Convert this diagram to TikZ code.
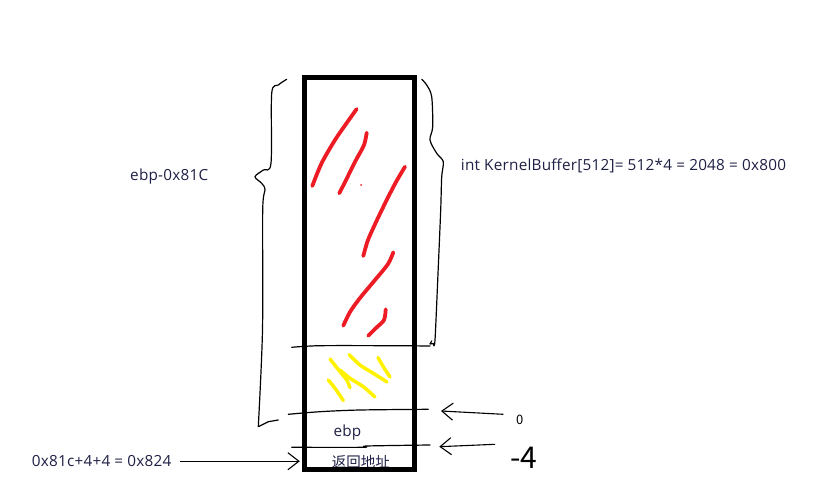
\documentclass[tikz,border=0pt]{standalone}
\usepackage{fontspec}
\newfontfamily\yahei{Noto Sans CJK SC}
\newfontfamily\segoe[LetterSpace=1.5]{Open Sans}
\usepackage{tikz}
\usetikzlibrary{arrows.meta,positioning,calc}
\definecolor{inkred}{HTML}{ED1C24}
\definecolor{inkyellow}{HTML}{FFF200}
\definecolor{textnavy}{HTML}{1F2045}

\begin{document}
\begin{tikzpicture}[
    x=1pt, y=-1pt,
    pen/.style={line width=1.2pt, line join=round, line cap=round},
    redink/.style={draw=inkred, line width=3.8pt, line cap=round, line join=round},
    yellowink/.style={draw=inkyellow, line width=3.5pt, line cap=round, line join=round},
    label/.style={font=\segoe\fontsize{15.3}{17}\selectfont, text=textnavy, inner sep=0pt},
    cjklabel/.style={font=\yahei\fontsize{14.5}{16}\selectfont, text=textnavy, inner sep=0pt},
    hand/.style={font=\yahei\fontsize{#1}{#1}\selectfont, inner sep=0pt},
    handarrow/.style={-{Straight Barb[length=11pt, width=17pt]}, line width=1.1pt},
]
    \useasboundingbox (0,0) rectangle (815,495);

    % Slot contents
    \node[label, anchor=base west] (ebp) at (333.3,436) {ebp};
    \node[cjklabel, anchor=base west] (ret) at (331.7,467.8) {返回地址};

    % Stack frame
    \node[draw, line width=5pt, minimum width=110pt, minimum height=391.5pt, inner sep=0pt] (stack) at (359.3,273.25) {};

    % Buffer scribbles
    \draw[redink] plot[smooth] coordinates {(356.7,109) (346.7,123) (335,140) (321.7,163) (312.3,186)};
    \draw[redink] plot[smooth] coordinates {(366.7,132.7) (364,145) (356,160) (348,176) (343,186) (339.3,193.3)};
    \fill[inkred] (361,185) circle (1pt);
    \draw[redink] plot[smooth] coordinates {(405,166.7) (396,182) (386.7,200) (377,220) (368,240) (363.3,256)};
    \draw[redink] plot[smooth] coordinates {(393.3,252.3) (388,264) (375,280) (360,298) (350,312) (343.3,325.7)};
    \draw[redink] plot[smooth] coordinates {(385.7,309.3) (384,320) (376,328) (368.3,335.7)};

    \draw[yellowink] plot[smooth] coordinates {(330,359) (340,371.7) (346.7,380) (350,387.7)};
    \draw[yellowink] plot[smooth] coordinates {(328.3,380) (335,388.3) (343.3,400.5)};
    \draw[yellowink] plot[smooth] coordinates {(349,354.5) (360,365) (373.3,373.3) (387,382)};
    \draw[yellowink] plot[smooth] coordinates {(340,370) (350,378.3) (363.3,386.7) (375,397)};
    \draw[yellowink] plot[smooth] coordinates {(378,357.5) (383.3,366.7) (390,377)};

    % Slot borders
    \draw[pen] plot[smooth] coordinates {(291.7,347.3) (320,345.7) (390,345.7) (430,346)};
    \draw[pen] plot[smooth] coordinates {(288.3,414.3) (320,411.7) (360,410) (428.3,409.3)};
    \draw[pen] plot[smooth] coordinates {(291.7,447.3) (363,447.3) (366.7,446) (430,445)};

    % Braces
    \draw[pen] plot[smooth] coordinates {(286.7,79.3) (278.3,85) (271.7,93.3) (271,163.3) (263.3,170) (255,176.7) (261.7,183.3) (265,190) (262.7,210) (262.5,330) (258.3,426.7)}
        -- (268.3,421.7) -- (278.3,420);
    \draw[pen] plot[smooth] coordinates {(421.7,79.3) (426.7,85) (431.7,96.7) (432.7,126.7) (430,140) (436.7,153.3) (443.3,161.7) (441.7,176.7) (440.7,210) (438.3,266.7) (435,340) (433.3,343.5)}
        -- (430,344) -- (431.7,341);

    % Labels
    \node[label, anchor=base west] (offset) at (130,180.7) {ebp-0x81C};
    \node[label, anchor=base west] (size) at (460.7,170.7) {int KernelBuffer[512]= 512*4 = 2048 = 0x800};
    \node[label, anchor=base west] (sum) at (31.7,466.7) {0x81c+4+4 = 0x824};
    \node[hand=13] (zero) at (519.7,420.3) {0};
    \node[hand=30] (minusfour) at (524,458) {-4};

    % Arrows
    \coordinate (zerotip) at (441,411);
    \coordinate (zerotail) at (503.3,414.3);
    \coordinate (fourtip) at (439.3,446.7);
    \coordinate (fourtail) at (495,444.3);
    \draw[handarrow] (zerotail) -- (zerotip);
    \draw[handarrow] (fourtail) -- (fourtip);
    \draw[handarrow, shorten <=8pt, shorten >=2pt] (sum.east) -- (stack.west |- sum.east);

\end{tikzpicture}
\end{document}
